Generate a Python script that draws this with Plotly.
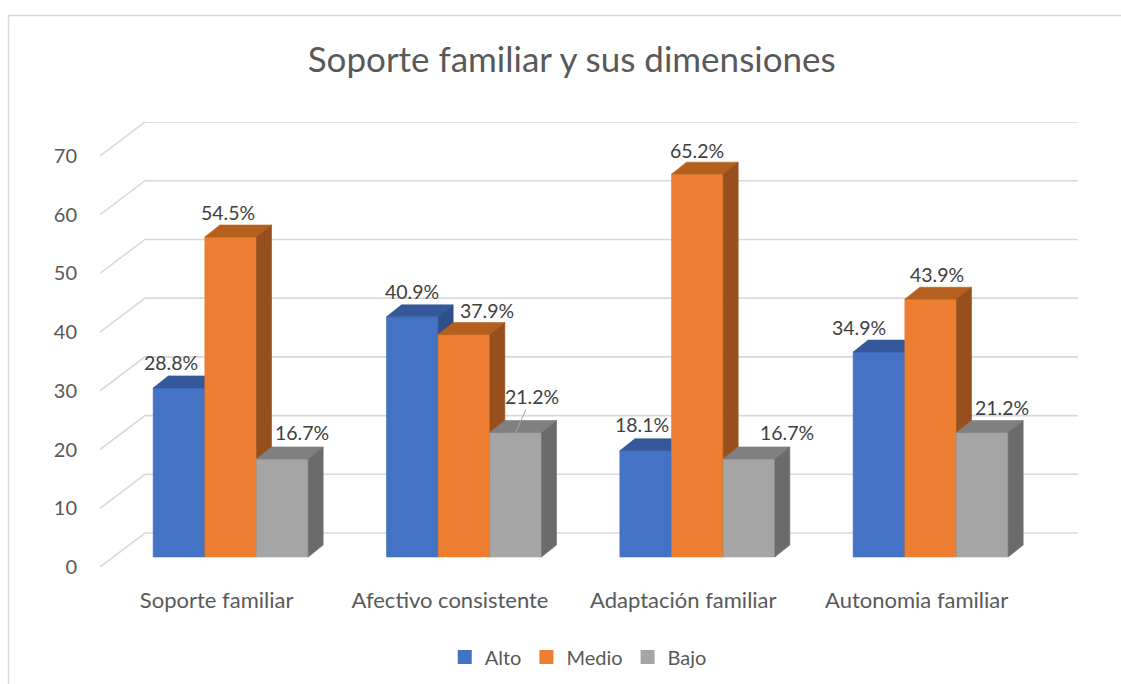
import plotly.graph_objects as go

# ---- data ----
categories = ["Soporte familiar", "Afectivo consistente", "Adaptación familiar", "Autonomia familiar"]
series_names = ["Alto", "Medio", "Bajo"]
alto = [28.8, 40.9, 18.1, 34.9]
medio = [54.5, 37.9, 65.2, 43.9]
bajo = [16.7, 21.2, 16.7, 21.2]
y_ticks = [0, 10, 20, 30, 40, 50, 60, 70]
title_text = "Soporte familiar y sus dimensiones"

# ---- style ----
FRONT_COL = ["#4472C4", "#ED7D31", "#A5A5A5"]
TOP_COL = ["#34589A", "#B5601F", "#808080"]
SIDE_COL = ["#2E4F8C", "#964F1D", "#6B6B6B"]
GRID_COL = "#D9D9D9"
TXT_COL = "#595959"
FONT = "Lato"

PX_X = 233.33          # pixels per category unit
PX_Y = 5.876           # pixels per value unit
BAR_W = 51.67 / PX_X
BAR_OFF = 14 / PX_X
DEP_X = 15 / PX_X
DEP_Y = 12 / PX_Y
WALL_X = 45 / PX_X
FRONT_OFF = 10 / PX_Y
BACK_OFF = 24 / PX_Y
X_END = 978 / PX_X

# per-label pixel nudges (x, y) and leader flags
LBL_DX = [[-8.5, 0, -4, -20], [-3, 22.5, 0, 6], [19.5, 16, 38, 20]]
LBL_DY = [[25, 25, 26, 25], [25, 24, 24, 25], [26, 36, 26, 25]]
LBL_LEADER = [[False] * 4, [False] * 4, [False, True, False, False]]

values = [alto, medio, bajo]

fig = go.Figure()

# gridlines (back wall + slanted side)
for t in y_ticks:
    fig.add_trace(go.Scatter(
        x=[0, WALL_X, X_END], y=[t - FRONT_OFF, t + BACK_OFF, t + BACK_OFF],
        mode="lines", line=dict(color=GRID_COL, width=1.6),
        hoverinfo="skip", showlegend=False))

def poly(xs, ys, col):
    fig.add_trace(go.Scatter(
        x=xs + [xs[0]], y=ys + [ys[0]], mode="lines", fill="toself",
        fillcolor=col, line=dict(color=col, width=0.6),
        hoverinfo="skip", showlegend=False))

LBL_FONT = dict(family=FONT, size=19.5, color="#404040")
annotations = []
for g in range(len(categories)):
    for s in range(len(series_names)):
        v = values[s][g]
        x0 = g + 0.5 + BAR_OFF - 1.5 * BAR_W + s * BAR_W
        x1 = x0 + BAR_W
        poly([x0, x1, x1, x0], [0, 0, v, v], FRONT_COL[s])
        poly([x0, x1, x1 + DEP_X, x0 + DEP_X], [v, v, v + DEP_Y, v + DEP_Y], TOP_COL[s])
        poly([x1, x1 + DEP_X, x1 + DEP_X, x1], [0, DEP_Y, v + DEP_Y, v], SIDE_COL[s])
        xc = (x0 + x1) / 2
        txt = f"{v:.1f}%"
        if LBL_LEADER[s][g]:
            annotations.append(dict(
                x=xc, y=v, xref="x", yref="y", text=txt, showarrow=True,
                arrowhead=0, arrowwidth=1, arrowcolor="#A6A6A6",
                ax=LBL_DX[s][g], ay=-LBL_DY[s][g], standoff=0, font=LBL_FONT))
        else:
            annotations.append(dict(
                x=xc, y=v, xref="x", yref="y", text=txt, showarrow=False,
                xshift=LBL_DX[s][g], yshift=LBL_DY[s][g],
                xanchor="center", yanchor="middle", font=LBL_FONT))

# legend entries
for s, name in enumerate(series_names):
    fig.add_trace(go.Scatter(
        x=[None], y=[None], mode="markers", name=name,
        marker=dict(symbol="square", size=14, color=FRONT_COL[s])))

fig.update_layout(
    width=1121, height=684,
    paper_bgcolor="white", plot_bgcolor="white",
    margin=dict(l=100, r=43, t=122, b=117, autoexpand=False),
    title=dict(text=title_text, x=0.51, xref="container", xanchor="center",
               y=1 - 60 / 684, yref="container", yanchor="middle",
               font=dict(family=FONT, size=35, color=TXT_COL)),
    font=dict(family=FONT, color=TXT_COL),
    xaxis=dict(range=[0, X_END], showgrid=False, zeroline=False, showline=False,
               tickvals=[i + 0.5 for i in range(len(categories))], ticktext=categories,
               ticks="", ticklabelstandoff=18,
               tickfont=dict(family=FONT, size=22, color=TXT_COL), fixedrange=True),
    yaxis=dict(range=[-FRONT_OFF, 70 + BACK_OFF], showgrid=False, zeroline=False,
               showline=False, tickvals=[t - FRONT_OFF for t in y_ticks],
               ticktext=[str(t) for t in y_ticks], ticks="", ticklabelstandoff=22,
               tickfont=dict(family=FONT, size=20, color=TXT_COL), fixedrange=True),
    legend=dict(orientation="h", x=0.489, xanchor="center", y=-0.202, yanchor="middle",
                font=dict(family=FONT, size=20, color=TXT_COL),
                itemwidth=30, tracegroupgap=0),
    annotations=annotations,
    shapes=[dict(type="rect", xref="paper", yref="paper",
                 x0=(8.5 - 100) / 978, x1=(1130 - 100) / 978,
                 y0=(567 - 700) / 445, y1=(567 - 15.5) / 445,
                 line=dict(color=GRID_COL, width=1.5), layer="below")],
)

fig.write_html("out.html", config={"displayModeBar": False},
               post_script="document.body.style.margin='0';")
